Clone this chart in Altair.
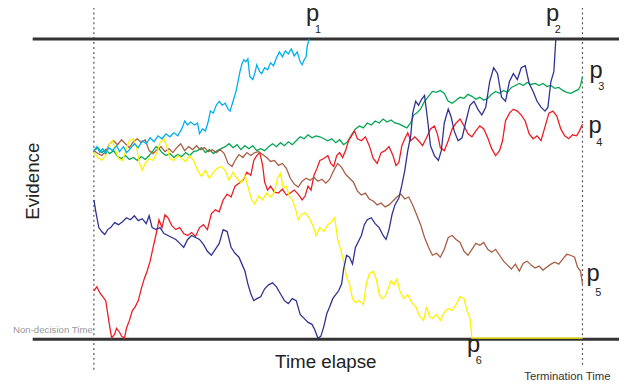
import altair as alt
import pandas as pd

# Paths: (time, level) where level is the vertical position (pixel row)
P1 = [(95,150),(98,146),(101,152),(104,148),(107,153),(110,147),(114,150),(118,145),(121,151),(125,146),(128,152),(132,148),(136,143),(140,147),(144,140),(148,143),(152,137),(156,141),(160,135),(164,138),(168,133),(172,136),(176,132),(180,135),(184,128),(187,120),(190,124),(193,121),(197,124),(200,122),(202,133),(205,128),(208,130),(211,120),(213,110),(216,112),(219,104),(222,100),(225,104),(228,102),(231,108),(233,110),(236,100),(239,90),(241,80),(243,70),(245,62),(247,58),(249,60),(251,57),(253,75),(256,78),(258,72),(260,63),(263,70),(265,72),(268,66),(271,68),(274,61),(277,64),(280,56),(283,50),(286,55),(289,49),(292,52),(295,47),(298,54),(301,50),(304,60),(306,63),(308,58),(310,55),(311,45),(313,37)]

P2 = [(95,200),(97,212),(100,228),(103,232),(106,235),(109,230),(112,228),(116,223),(120,225),(124,222),(128,218),(132,220),(136,216),(140,221),(144,219),(148,224),(151,216),(154,228),(158,230),(162,228),(166,234),(170,236),(174,238),(178,240),(182,244),(186,248),(190,240),(194,236),(198,238),(202,240),(206,245),(210,252),(214,256),(218,250),(222,244),(226,230),(230,232),(234,248),(238,254),(242,258),(245,265),(248,272),(251,285),(254,295),(257,302),(260,300),(264,298),(268,290),(272,286),(276,284),(280,288),(284,295),(288,302),(292,305),(296,300),(300,302),(304,316),(308,320),(312,324),(316,326),(319,332),(322,340),(325,338),(328,328),(331,315),(334,308),(337,300),(340,296),(343,292),(346,285),(348,270),(351,256),(354,258),(357,265),(360,248),(363,242),(366,236),(369,225),(372,220),(376,218),(380,224),(384,228),(388,236),(391,240),(394,230),(397,215),(400,205),(404,198),(407,185),(410,170),(413,150),(416,135),(418,112),(421,100),(424,104),(427,98),(430,94),(433,118),(436,145),(440,155),(444,160),(447,150),(450,122),(454,108),(457,116),(460,130),(464,140),(468,137),(472,120),(476,104),(480,100),(484,108),(488,114),(492,106),(496,80),(500,66),(504,72),(508,96),(512,100),(516,80),(520,72),(524,78),(528,66),(532,64),(536,82),(540,90),(544,100),(548,106),(552,110),(555,106),(558,80),(561,70),(563,37)]

P3 = [(95,150),(99,147),(103,152),(107,149),(111,153),(115,150),(119,156),(123,158),(127,155),(131,159),(135,157),(139,160),(143,156),(147,159),(151,155),(155,150),(158,146),(161,148),(164,152),(168,155),(172,153),(176,157),(180,154),(184,156),(188,152),(192,155),(196,151),(200,150),(204,147),(208,152),(212,149),(216,153),(220,150),(224,148),(228,146),(232,143),(236,147),(240,144),(244,149),(248,145),(252,148),(256,145),(260,150),(264,148),(268,150),(272,146),(276,143),(280,146),(284,142),(288,145),(292,141),(296,144),(300,140),(304,136),(308,138),(312,134),(316,137),(320,135),(324,136),(328,138),(332,140),(336,138),(340,142),(344,139),(348,144),(352,141),(356,134),(360,128),(364,125),(368,127),(372,122),(376,124),(380,120),(384,122),(388,118),(392,121),(396,119),(400,122),(404,123),(408,125),(412,127),(416,122),(419,114),(422,112),(426,108),(430,100),(434,95),(438,90),(442,91),(446,89),(450,92),(454,100),(458,102),(462,99),(466,96),(470,97),(474,93),(478,95),(482,98),(486,96),(490,99),(494,97),(498,93),(502,90),(506,92),(510,89),(514,91),(518,86),(522,84),(526,82),(530,84),(534,81),(538,83),(542,82),(546,84),(550,82),(554,85),(558,84),(562,87),(566,86),(570,89),(574,91),(578,92),(582,90),(586,88),(588,84),(590,75)]

P4 = [(95,292),(98,288),(101,294),(104,298),(107,302),(109,315),(111,328),(113,340),(116,336),(118,330),(121,334),(123,338),(126,340),(128,330),(131,322),(134,312),(137,308),(140,302),(143,290),(146,280),(149,272),(152,262),(155,248),(158,235),(161,220),(164,228),(167,215),(170,218),(174,226),(178,230),(182,228),(186,234),(190,236),(194,233),(198,237),(202,228),(206,225),(210,230),(214,214),(218,210),(222,212),(226,200),(230,194),(234,197),(238,186),(242,183),(246,180),(250,172),(254,175),(257,160),(260,155),(263,152),(266,165),(268,182),(271,190),(274,186),(278,192),(282,193),(286,189),(290,195),(294,193),(298,190),(302,194),(306,200),(309,196),(312,186),(315,190),(318,175),(321,168),(324,160),(328,158),(332,155),(335,163),(338,166),(341,155),(344,152),(347,157),(350,150),(353,140),(356,135),(359,130),(362,138),(366,140),(370,136),(374,145),(378,158),(382,163),(386,152),(390,150),(394,146),(398,155),(401,165),(404,162),(407,145),(410,138),(413,132),(416,140),(420,136),(424,140),(428,145),(432,137),(436,128),(440,125),(443,133),(446,147),(450,150),(454,140),(458,128),(462,122),(466,118),(470,125),(474,133),(478,136),(482,130),(486,125),(490,128),(494,137),(498,148),(502,155),(506,150),(509,140),(512,120),(516,112),(520,108),(524,110),(528,114),(532,120),(536,133),(540,138),(544,135),(548,140),(552,126),(556,112),(560,110),(564,115),(568,128),(572,135),(576,138),(580,134),(584,135),(587,130),(590,123)]

P5 = [(95,150),(99,153),(103,155),(107,151),(111,143),(115,140),(119,144),(123,139),(127,143),(131,147),(135,141),(139,138),(143,142),(147,139),(151,150),(155,153),(159,149),(163,146),(167,151),(171,148),(175,152),(179,147),(183,143),(187,150),(191,146),(195,149),(199,145),(203,149),(207,147),(211,151),(215,149),(219,152),(223,149),(227,153),(231,163),(235,166),(238,160),(242,154),(246,157),(250,152),(254,155),(258,152),(262,151),(266,154),(270,157),(274,161),(278,160),(282,165),(286,163),(290,168),(294,178),(298,184),(302,187),(306,181),(310,178),(314,180),(318,177),(322,181),(326,179),(330,183),(334,179),(338,170),(342,163),(346,167),(350,174),(354,178),(358,182),(362,191),(366,195),(370,193),(374,199),(378,201),(382,205),(386,203),(390,207),(394,205),(398,201),(402,197),(406,194),(410,199),(414,197),(418,205),(422,215),(426,225),(430,238),(434,248),(438,256),(442,254),(446,258),(450,250),(454,238),(458,236),(462,240),(466,243),(470,252),(474,256),(478,250),(482,244),(486,246),(490,243),(494,250),(498,253),(502,250),(506,256),(510,262),(514,266),(518,270),(522,265),(526,272),(530,264),(534,262),(538,266),(542,269),(546,267),(550,271),(554,268),(558,265),(562,263),(566,265),(570,260),(574,255),(578,256),(582,258),(585,268),(588,272),(590,285)]

P6 = [(95,152),(99,157),(103,160),(107,155),(111,143),(114,140),(117,150),(120,158),(124,160),(128,148),(131,140),(135,138),(138,145),(141,162),(144,170),(147,163),(151,158),(155,160),(159,152),(162,142),(166,138),(169,146),(172,158),(176,160),(180,155),(184,158),(188,161),(192,155),(196,160),(200,170),(204,176),(208,170),(212,178),(216,172),(220,168),(224,166),(228,170),(232,180),(236,172),(240,178),(244,183),(248,175),(252,190),(255,200),(258,204),(262,196),(266,200),(270,193),(274,197),(278,192),(281,178),(284,173),(287,188),(290,186),(293,196),(296,200),(299,208),(302,220),(305,215),(309,213),(313,218),(317,226),(320,236),(324,228),(328,232),(332,225),(336,222),(339,218),(342,240),(345,250),(348,262),(351,278),(354,285),(357,300),(360,304),(364,302),(368,306),(371,285),(374,275),(378,272),(381,280),(384,295),(387,300),(390,298),(393,290),(396,282),(399,286),(402,280),(405,292),(409,300),(413,296),(417,304),(421,308),(425,318),(429,322),(432,308),(435,318),(438,320),(442,316),(446,322),(450,314),(454,310),(458,312),(462,306),(466,298),(470,300),(473,312),(476,320),(478,340),(590,340)]

SERIES = ["p3", "p4", "p5", "p6", "p1", "p2"]
PATHS = {"p1": P1, "p2": P2, "p3": P3, "p4": P4, "p5": P5, "p6": P6}
COLORS = ["#00A651", "#ED1C24", "#A65F45", "#FFF200", "#00AEEF", "#2E3192"]

BOUND_ROWS = [37, 341]           # upper / lower decision bounds (pixel rows)
BOUND_X = [33, 627]
DOTTED = [(95, 5, 372), (590, 5, 368)]  # non-decision time / termination time

LABEL_P = [("p", 310, 19), ("p", 553, 19), ("p", 597, 76), ("p", 596, 132), ("p", 594, 282), ("p", 473, 354)]
LABEL_SUB = [("1", 319, 31), ("2", 562, 31), ("3", 606, 89), ("4", 604, 145), ("5", 603, 297), ("6", 482, 366)]

BASE = 341  # evidence = BASE - row

rows = []
for s in SERIES:
    for t, r in PATHS[s]:
        rows.append({"series": s, "time": t, "evidence": BASE - r})
paths = pd.DataFrame(rows)

xs = alt.Scale(domain=[8, 619], range=[0, 611], nice=False, zero=False)
ys = alt.Scale(domain=[-38, 333], nice=False, zero=False)

X = lambda f: alt.X(f, type="quantitative", scale=xs, axis=None)
Y = lambda f: alt.Y(f, type="quantitative", scale=ys, axis=None)

bounds = pd.DataFrame({"y": [BASE - r for r in BOUND_ROWS], "x": BOUND_X[0], "x2": BOUND_X[1]})
bound_layer = alt.Chart(bounds).mark_rule(color="#333333", strokeWidth=3).encode(
    x=X("x"), x2="x2", y=Y("y"))

dots = pd.DataFrame([{"x": x, "y": BASE - a, "y2": BASE - b} for x, a, b in DOTTED])
dot_layer = alt.Chart(dots).mark_rule(color="#555555", strokeWidth=1.2, strokeDash=[2, 3]).encode(
    x=X("x"), y=Y("y"), y2="y2")

line_layer = alt.Chart(paths).mark_line(strokeWidth=1.3, interpolate="linear").encode(
    x=X("time"), y=Y("evidence"),
    color=alt.Color("series:N", scale=alt.Scale(domain=SERIES, range=COLORS), legend=None),
    order=alt.Order("time:Q"))

lp = pd.DataFrame([{"t": t, "x": x, "y": BASE - r} for t, x, r in LABEL_P])
ls = pd.DataFrame([{"t": t, "x": x, "y": BASE - r} for t, x, r in LABEL_SUB])
font = "Liberation Sans"
p_layer = alt.Chart(lp).mark_text(font=font, fontSize=24, align="left", baseline="alphabetic", color="#222222").encode(
    x=X("x"), y=Y("y"), text="t:N")
sub_layer = alt.Chart(ls).mark_text(font=font, fontSize=11, align="left", baseline="alphabetic", color="#222222").encode(
    x=X("x"), y=Y("y"), text="t:N")

texts = pd.DataFrame([
    {"t": "Time elapse", "x": 330, "y": BASE - 370},
])
te_layer = alt.Chart(texts).mark_text(font=font, fontSize=19, align="center", baseline="alphabetic", color="#222222").encode(
    x=X("x"), y=Y("y"), text="t:N")
ev_layer = alt.Chart(pd.DataFrame([{"t": "Evidence", "x": 33, "y": BASE - 181}])).mark_text(
    font=font, fontSize=19, align="center", baseline="middle", angle=270, color="#222222").encode(
    x=X("x"), y=Y("y"), text="t:N")
nd_layer = alt.Chart(pd.DataFrame([{"t": "Non-decision Time", "x": 94, "y": BASE - 335}])).mark_text(
    font=font, fontSize=9.8, align="right", baseline="alphabetic", color="#999999").encode(
    x=X("x"), y=Y("y"), text="t:N")
tt_layer = alt.Chart(pd.DataFrame([{"t": "Termination Time", "x": 531, "y": BASE - 382}])).mark_text(
    font=font, fontSize=11.5, align="left", baseline="alphabetic", color="#333333").encode(
    x=X("x"), y=Y("y"), text="t:N")

chart = alt.layer(dot_layer, bound_layer, line_layer, p_layer, sub_layer, te_layer, ev_layer, nd_layer, tt_layer).properties(
    width=611, height=371,
    padding={"left": 0, "top": 0, "right": 8, "bottom": 8},
    autosize=alt.AutoSizeParams(type="none"),
    background="white",
).configure_view(stroke=None)

chart.save("out.html", embed_options={"renderer": "svg", "actions": False})
